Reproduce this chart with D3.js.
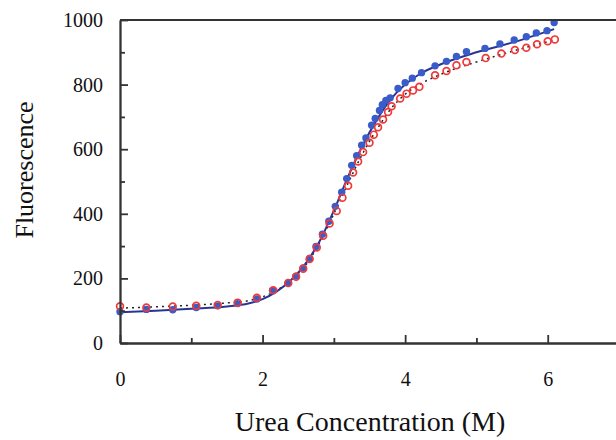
<!DOCTYPE html>
<html>
<head>
<meta charset="utf-8">
<script src="https://cdn.jsdelivr.net/npm/d3@7"></script>
<style>
  html, body { margin: 0; padding: 0; background: #fff; }
  svg { display: block; }
</style>
</head>
<body>
<svg id="chart" width="616" height="440"></svg>
<script>
// Urea denaturation curves: two data series plus their fitted curves.

// filled blue circles
const blueX = [0.00, 0.37, 0.74, 1.07, 1.37, 1.65, 1.92, 2.14, 2.36, 2.47, 2.57, 2.66, 2.75, 2.84, 2.93, 3.02,
  3.11, 3.18, 3.25, 3.32, 3.39, 3.45, 3.53, 3.58, 3.64, 3.68, 3.73, 3.79, 3.90, 4.00, 4.10, 4.23, 4.42, 4.58,
  4.72, 4.86, 5.12, 5.33, 5.53, 5.70, 5.84, 5.99, 6.09];
const blueY = [97, 104, 103, 110, 115, 122, 136, 163, 186, 207, 232, 262, 299, 337, 377, 423,
  467, 509, 550, 580, 612, 635, 674, 695, 720, 738, 751, 759, 788, 806, 820, 837, 858, 872,
  887, 902, 912, 926, 938, 948, 960, 967, 992];

// open red circles
const redX = [0.00, 0.37, 0.74, 1.07, 1.37, 1.65, 1.92, 2.15, 2.36, 2.47, 2.57, 2.66, 2.76, 2.85, 2.94, 3.04,
  3.12, 3.20, 3.27, 3.34, 3.41, 3.50, 3.56, 3.62, 3.69, 3.76, 3.81, 3.93, 4.02, 4.11, 4.20, 4.42, 4.58,
  4.72, 4.86, 5.13, 5.35, 5.54, 5.70, 5.85, 6.00, 6.10];
const redY = [114, 110, 113, 115, 118, 125, 140, 163, 186, 205, 230, 260, 296, 332, 370, 409,
  450, 487, 528, 562, 591, 620, 645, 668, 692, 715, 733, 757, 772, 782, 793, 829, 842,
  860, 870, 882, 896, 907, 914, 925, 934, 940];

// fitted curves, read at these concentrations
const fitX = [0, 0.5, 1.0, 1.5, 1.8, 2.0, 2.2, 2.4, 2.6, 2.8, 3.0, 3.2, 3.4, 3.6, 3.8, 4.0, 4.2, 4.5, 5.0, 5.5, 6.09];
const blueFit = [95, 100, 106, 113, 122, 136, 160, 195, 245, 315, 410, 515, 610, 690, 755, 800, 832, 863, 900, 930, 972];
const redFit = [108, 112, 117, 124, 131, 143, 163, 195, 240, 310, 400, 495, 585, 660, 725, 770, 800, 832, 870, 903, 938];

const xTicksMajor = [0, 2, 4, 6];
const xTicksMinor = [1, 3, 5, 7];
const yTicksMajor = [0, 200, 400, 600, 800, 1000];
const yTicksMinor = [100, 300, 500, 700, 900];

const FONT = "'Liberation Serif', 'Times New Roman', serif";
const AXIS = "#333";

const svg = d3.select("#chart");
const x = d3.scaleLinear().domain([0, 7]).range([120, 619]);
const y = d3.scaleLinear().domain([0, 1000]).range([343, 20]);

// fit lines
const line = d3.line()
  .x((d) => x(d[0]))
  .y((d) => y(d[1]))
  .curve(d3.curveMonotoneX);

svg.append("path")
  .datum(fitX.map((v, i) => [v, redFit[i]]))
  .attr("d", line)
  .attr("fill", "none")
  .attr("stroke", "#222")
  .attr("stroke-width", 1.5)
  .attr("stroke-dasharray", "2,4");

svg.append("path")
  .datum(fitX.map((v, i) => [v, blueFit[i]]))
  .attr("d", line)
  .attr("fill", "none")
  .attr("stroke", "#2b3590")
  .attr("stroke-width", 2);

// points
svg.append("g")
  .selectAll("circle")
  .data(blueX.map((v, i) => [v, blueY[i]]))
  .enter()
  .append("circle")
  .attr("cx", (d) => x(d[0]))
  .attr("cy", (d) => y(d[1]))
  .attr("r", 3.7)
  .attr("fill", "#3a5cc8");

svg.append("g")
  .selectAll("circle")
  .data(redX.map((v, i) => [v, redY[i]]))
  .enter()
  .append("circle")
  .attr("cx", (d) => x(d[0]))
  .attr("cy", (d) => y(d[1]))
  .attr("r", 3.4)
  .attr("fill", "none")
  .attr("stroke", "#f03a3a")
  .attr("stroke-width", 1.7);

// axes (ticks point inward)
function styleAxis(g) {
  g.attr("font-family", FONT);
  g.selectAll("path.domain").attr("stroke", AXIS).attr("stroke-width", 1.8);
  g.selectAll(".tick line").attr("stroke", AXIS).attr("stroke-width", 1.8);
  g.selectAll("text")
    .attr("font-family", FONT)
    .attr("font-size", 20)
    .attr("fill", "#111");
}

const fmt = d3.format("d");

svg.append("g")
  .attr("transform", "translate(0,343)")
  .call(d3.axisBottom(x).tickValues(xTicksMinor).tickSizeInner(-5).tickSizeOuter(0).tickFormat(""))
  .call(styleAxis);

svg.append("g")
  .attr("transform", "translate(0,343)")
  .call(d3.axisBottom(x).tickValues(xTicksMajor).tickFormat(fmt).tickSizeInner(-8).tickSizeOuter(0).tickPadding(29))
  .call(styleAxis);

svg.append("g")
  .attr("transform", "translate(120,0)")
  .call(d3.axisLeft(y).tickValues(yTicksMinor).tickSizeInner(-5).tickSizeOuter(0).tickFormat(""))
  .call(styleAxis);

svg.append("g")
  .attr("transform", "translate(120,0)")
  .call(d3.axisLeft(y).tickValues(yTicksMajor).tickFormat(fmt).tickSizeInner(-8).tickSizeOuter(0).tickPadding(17))
  .call(styleAxis);

// top frame line
svg.append("line")
  .attr("x1", x(0)).attr("x2", x(7))
  .attr("y1", y(1000)).attr("y2", y(1000))
  .attr("stroke", AXIS)
  .attr("stroke-width", 1.8);

// axis titles
svg.append("text")
  .attr("x", 370)
  .attr("y", 431)
  .attr("text-anchor", "middle")
  .attr("font-family", FONT)
  .attr("font-size", 28)
  .attr("fill", "#111")
  .text("Urea Concentration (M)");

svg.append("text")
  .attr("transform", "translate(33,170) rotate(-90)")
  .attr("text-anchor", "middle")
  .attr("font-family", FONT)
  .attr("font-size", 26)
  .attr("fill", "#111")
  .text("Fluorescence");
</script>
</body>
</html>
